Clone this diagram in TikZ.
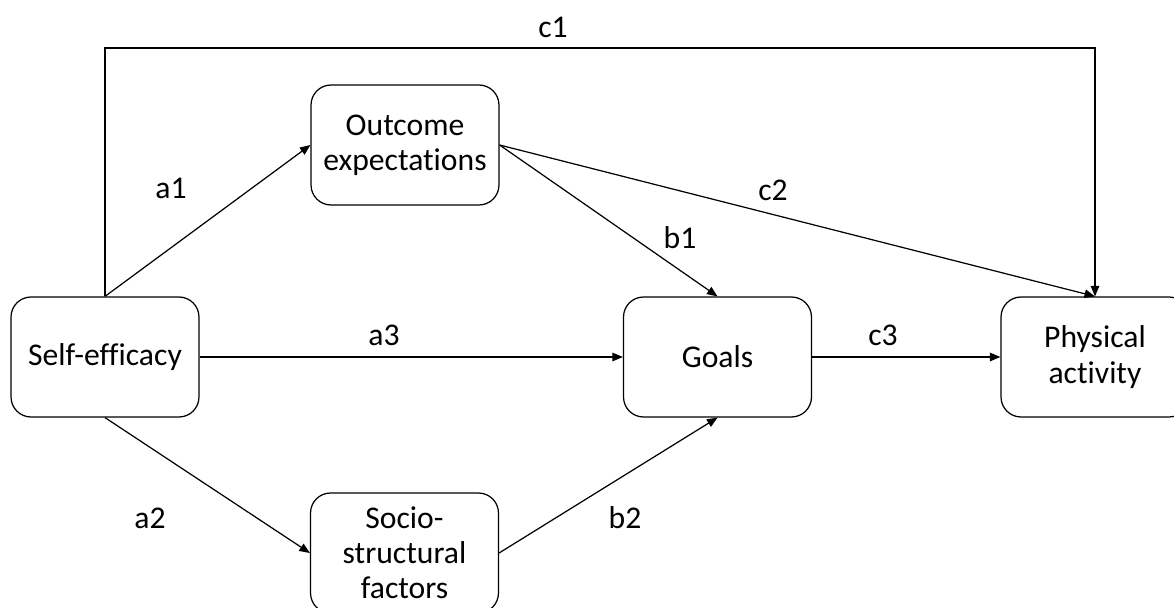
\documentclass[tikz,border=0pt]{standalone}
\usepackage{fontspec}
\setmainfont{Carlito}[Ligatures=NoCommon]
\usetikzlibrary{arrows.meta}

\tikzset{
    construct/.style={draw, rounded corners=0.4cm, minimum width=3.76cm,
        minimum height=2.4cm, align=center, line width=0.7pt},
    effect/.style={-{Triangle[length=0.21cm,width=0.17cm]}, line width=0.7pt},
    coef/.style={inner sep=0pt}
}

\begin{document}
\begin{tikzpicture}[x=0.02cm, y=-0.02cm, font=\fontsize{18}{20}\selectfont]
    \useasboundingbox (0,0) rectangle (1174,608);
    \node[construct] (self) at (105,357) {Self-efficacy};
    \node[construct] (outcome) at (405,145) {Outcome\\expectations};
    \node[construct] (goals) at (717.5,357) {Goals};
    \node[construct] (activity) at (1095,357) {Physical\\activity};
    \node[construct] (socio) at (404.5,553) {Socio-\\structural\\factors};
    \coordinate (top) at (553,48);

    \draw[effect] (self.north) |- (top) -| (activity.north);
    \draw[effect] (self.north) -- (outcome.west);
    \draw[effect] (self.east) -- (goals.west);
    \draw[effect] (self.south) -- (socio.west);
    \draw[effect] (outcome.east) -- (goals.north);
    \draw[effect] (outcome.east) -- (activity.north);
    \draw[effect] (socio.east) -- (goals.south);
    \draw[effect] (goals.east) -- (activity.west);

    \node[coef] (c1) at (553,27) {c1};
    \node[coef] (a1) at (171,188) {a1};
    \node[coef] (c2) at (773,190) {c2};
    \node[coef] (b1) at (680,238) {b1};
    \node[coef] (a3) at (384,335) {a3};
    \node[coef] (c3) at (883,335) {c3};
    \node[coef] (a2) at (150,518) {a2};
    \node[coef] (b2) at (625,518) {b2};
\end{tikzpicture}
\end{document}
